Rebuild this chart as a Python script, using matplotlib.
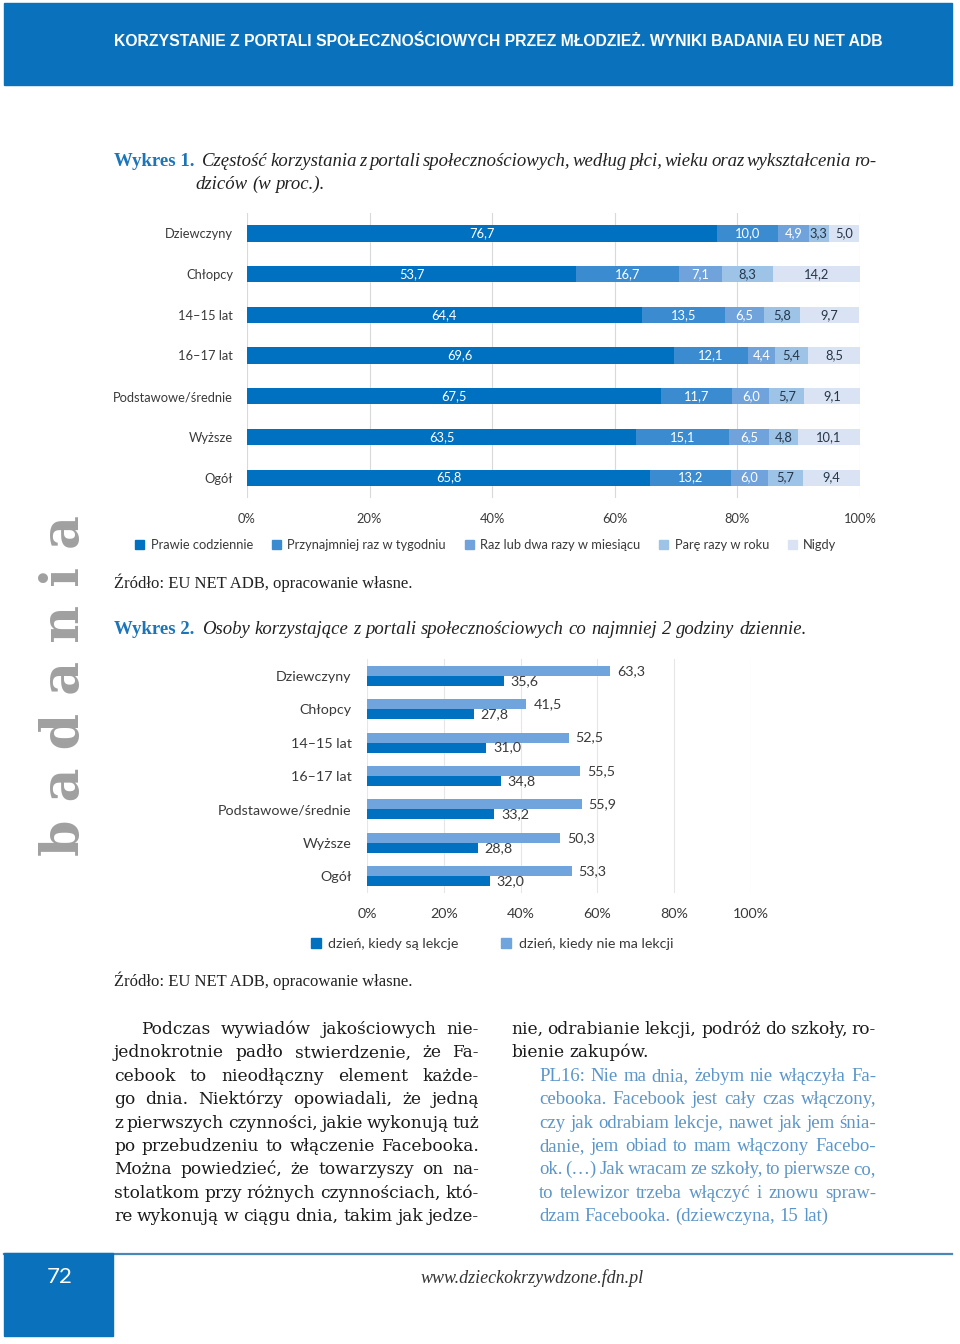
import matplotlib
matplotlib.use("Agg")
import matplotlib.pyplot as plt
import numpy as np
from matplotlib.patches import Rectangle, Patch
from matplotlib.lines import Line2D

# ---------------- data ----------------
cats = ["Dziewczyny", "Chłopcy", "14–15 lat", "16–17 lat",
        "Podstawowe/średnie", "Wyższe", "Ogół"]
series1_names = ["Prawie codziennie", "Przynajmniej raz w tygodniu",
                 "Raz lub dwa razy w miesiącu", "Parę razy w roku", "Nigdy"]
prawie = [76.7, 53.7, 64.4, 69.6, 67.5, 63.5, 65.8]
tydzien = [10.0, 16.7, 13.5, 12.1, 11.7, 15.1, 13.2]
miesiac = [4.9, 7.1, 6.5, 4.4, 6.0, 6.5, 6.0]
rok = [3.3, 8.3, 5.8, 5.4, 5.7, 4.8, 5.7]
nigdy = [5.0, 14.2, 9.7, 8.5, 9.1, 10.1, 9.4]
ticks1 = [0, 20, 40, 60, 80, 100]

series2_names = ["dzień, kiedy są lekcje", "dzień, kiedy nie ma lekcji"]
lekcje = [35.6, 27.8, 31.0, 34.8, 33.2, 28.8, 32.0]
bez_lekcji = [63.3, 41.5, 52.5, 55.5, 55.9, 50.3, 53.3]
ticks2 = [0, 20, 40, 60, 80, 100]

header = "KORZYSTANIE Z PORTALI SPOŁECZNOŚCIOWYCH PRZEZ MŁODZIEŻ. WYNIKI BADANIA EU NET ADB"
title1_a = "Wykres 1."
title1_l1 = "Częstość korzystania z portali społecznościowych, według płci, wieku oraz wykształcenia ro-"
title1_l2 = "dziców (w proc.)."
title2_a = "Wykres 2."
title2_b = "Osoby korzystające z portali społecznościowych co najmniej 2 godziny dziennie."
source = "Źródło: EU NET ADB, opracowanie własne."
body_left = ["Podczas wywiadów jakościowych nie-",
             "jednokrotnie padło stwierdzenie, że Fa-",
             "cebook to nieodłączny element każde-",
             "go dnia. Niektórzy opowiadali, że jedną",
             "z pierwszych czynności, jakie wykonują tuż",
             "po przebudzeniu to włączenie Facebooka.",
             "Można powiedzieć, że towarzyszy on na-",
             "stolatkom przy różnych czynnościach, któ-",
             "re wykonują w ciągu dnia, takim jak jedze-"]
body_right = ["nie, odrabianie lekcji, podróż do szkoły, ro-",
              "bienie zakupów."]
quote = ["PL16: Nie ma dnia, żebym nie włączyła Fa-",
         "cebooka. Facebook jest cały czas włączony,",
         "czy jak odrabiam lekcje, nawet jak jem śnia-",
         "danie, jem obiad to mam włączony Facebo-",
         "ok. (…) Jak wracam ze szkoły, to pierwsze co,",
         "to telewizor trzeba włączyć i znowu spraw-",
         "dzam Facebooka. (dziewczyna, 15 lat)"]
page_no = "72"
url = "www.dzieckokrzywdzone.fdn.pl"
side = "b a d a n i a"

# ---------------- styles ----------------
W, H = 960, 1344
BLUE = "#0A72BD"
TBLUE = "#1B75BB"
QBLUE = "#5B95C9"
cols1 = ["#0070C0", "#3A8BCF", "#70A3DC", "#9DC3E6", "#DAE3F3"]
tcols1 = ["white", "white", "white", "#26364A", "#26364A"]
col_dark, col_light = "#0070C0", "#70A4DC"
SANS = ["Lato", "DejaVu Sans"]
SERIF = ["Liberation Serif", "DejaVu Serif"]
TXT = "#3A3A3A"

fig = plt.figure(figsize=(W / 100, H / 100), dpi=100)
R = fig.canvas.get_renderer()


def fx(x):
    return x / W


def fy(y):
    return 1 - y / H


def tw(s, **kw):
    t = fig.text(0, 0, s, **kw)
    w = t.get_window_extent(R).width
    t.remove()
    return w


def put_line(text, x0, x1, base, justify=True, **kw):
    words = text.split(" ")
    ws = [tw(w, **kw) for w in words]
    sp = tw("a a", **kw) - tw("aa", **kw)
    if justify and len(words) > 1:
        gap = (x1 - x0 - sum(ws)) / (len(words) - 1)
    else:
        gap = sp
    x = x0
    for w, wd in zip(words, ws):
        fig.text(fx(x), fy(base), w, va="baseline", ha="left", **kw)
        x += wd + gap


def fit_size(lines, width, size, frac=0.5, **kw):
    while size > 6:
        ok = True
        for ln in lines:
            words = ln.split(" ")
            tot = sum(tw(w, fontsize=size, **kw) for w in words)
            sp = tw("a a", fontsize=size, **kw) - tw("aa", fontsize=size, **kw)
            if tot + frac * sp * (len(words) - 1) > width:
                ok = False
                break
        if ok:
            return size
        size -= 0.25
    return size


# ---------------- header ----------------
fig.add_artist(Rectangle((fx(4), fy(85)), fx(948), 82 / H, transform=fig.transFigure,
                         color=BLUE, zorder=0))
hkw = dict(color="white", weight="bold", family=["Liberation Sans Narrow", "Liberation Sans"])
hs = 14.0
hw = tw(header, fontsize=hs, **hkw)
hs = hs * 770 / hw
fig.text(fx(114), fy(41), header, va="center", ha="left", fontsize=hs, **hkw)

# ---------------- titles ----------------
tkw_b = dict(family=SERIF, weight="bold", color=TBLUE, fontsize=13.5)
tkw_i = dict(family=SERIF, style="italic", color="#222222", fontsize=13.5)
fig.text(fx(114), fy(166), title1_a, va="baseline", ha="left", **tkw_b)
put_line(title1_l1, 202, 876, 166, True, **tkw_i)
put_line(title1_l2, 195, 876, 189, False, **tkw_i)

fig.text(fx(114), fy(634), title2_a, va="baseline", ha="left", **tkw_b)
put_line(title2_b, 202, 876, 634, False, **tkw_i)

skw = dict(family=SERIF, color="#222222", fontsize=12)
fig.text(fx(114), fy(588), source, va="baseline", ha="left", **skw)
fig.text(fx(114), fy(986), source, va="baseline", ha="left", **skw)


def fmt(v):
    return f"{v:.1f}".replace(".", ",")


# ---------------- chart 1 ----------------
ax1 = fig.add_axes([fx(247), fy(498), 613 / W, 285 / H])
y = np.arange(len(cats))
left = np.zeros(len(cats))
handles = []
for name, vals, c, tc in zip(series1_names, [prawie, tydzien, miesiac, rok, nigdy], cols1, tcols1):
    vals = np.array(vals)
    b = ax1.barh(y, vals, left=left, height=0.4, color=c, label=name, zorder=3)
    ax1.bar_label(b, labels=[fmt(v) for v in vals], label_type="center",
                  color=tc, fontsize=9.3, family=SANS)
    left += vals
    handles.append(Patch(color=c, label=name))
ax1.set_xlim(0, 100)
ax1.set_ylim(len(cats) - 0.5, -0.5)
ax1.set_xticks(ticks1)
ax1.set_xticklabels([f"{t}%" for t in ticks1])
ax1.set_yticks(y)
ax1.set_yticklabels(cats)
ax1.tick_params(length=0, labelsize=9.3, labelcolor=TXT)
ax1.tick_params(axis="x", pad=11)
ax1.tick_params(axis="y", pad=10)
for lab in ax1.get_xticklabels() + ax1.get_yticklabels():
    lab.set_family(SANS)
ax1.xaxis.grid(True, color="#D9D9D9", lw=0.8, zorder=0)
ax1.set_axisbelow(True)
for s in ax1.spines.values():
    s.set_visible(False)
fig.legend(handles=handles, loc="center", bbox_to_anchor=(fx(486), fy(545)), ncol=5,
           frameon=False, handlelength=0.7, handleheight=0.7, handletextpad=0.5,
           columnspacing=1.45, prop={"family": SANS, "size": 9.3}, labelcolor=TXT)

# ---------------- chart 2 ----------------
ax2 = fig.add_axes([fx(367), fy(893), 384 / W, 234 / H])
b_l = ax2.barh(y - 0.15, bez_lekcji, height=0.3, color=col_light, zorder=3)
b_d = ax2.barh(y + 0.15, lekcje, height=0.3, color=col_dark, zorder=3)
ax2.bar_label(b_l, labels=[fmt(v) for v in bez_lekcji], padding=5, fontsize=10.3,
              color=TXT, family=SANS)
ax2.bar_label(b_d, labels=[fmt(v) for v in lekcje], padding=5, fontsize=10.3,
              color=TXT, family=SANS)
ax2.set_xlim(0, 100)
ax2.set_ylim(len(cats) - 0.5, -0.5)
ax2.set_xticks(ticks2)
ax2.set_xticklabels([f"{t}%" for t in ticks2])
ax2.set_yticks(y)
ax2.set_yticklabels(cats)
ax2.tick_params(length=0, labelsize=10.3, labelcolor=TXT)
ax2.tick_params(axis="x", pad=11)
ax2.tick_params(axis="y", pad=11)
for lab in ax2.get_xticklabels() + ax2.get_yticklabels():
    lab.set_family(SANS)
ax2.xaxis.grid(True, color="#E6E6E6", lw=0.8, zorder=0)
ax2.set_axisbelow(True)
for s in ax2.spines.values():
    s.set_visible(False)
fig.legend(handles=[Patch(color=col_dark, label=series2_names[0]),
                    Patch(color=col_light, label=series2_names[1])],
           loc="center", bbox_to_anchor=(fx(492), fy(944)), ncol=2, frameon=False,
           handlelength=0.7, handleheight=0.7, handletextpad=0.5, columnspacing=3.0,
           prop={"family": SANS, "size": 10.3}, labelcolor=TXT)

# ---------------- side text ----------------
fig.text(fx(65), fy(685), side, rotation=90, ha="center", va="center",
         fontsize=37.5, color="#A0A0A0", family=["DejaVu Serif"], weight="bold")

# ---------------- body text ----------------
bkw = dict(family=["DejaVu Serif"], color="#1A1A1A")
bs = fit_size(body_left + body_right[:1], 365, 12.5, frac=0.45, **bkw)
bases = [1034 + 23.4 * i for i in range(9)]
for i, ln in enumerate(body_left):
    x0 = 141 if i == 0 else 114
    put_line(ln, x0, 479, bases[i], True, fontsize=bs, **bkw)
put_line(body_right[0], 511, 876, bases[0], True, fontsize=bs, **bkw)
put_line(body_right[1], 511, 876, bases[1], False, fontsize=bs, **bkw)
qkw = dict(family=SERIF, color=QBLUE)
qs = fit_size(quote, 337, 13.5, frac=0.4, **qkw)
for i, ln in enumerate(quote):
    put_line(ln, 539, 876, bases[i + 2], i < len(quote) - 1, fontsize=qs, **qkw)

# ---------------- footer ----------------
fig.add_artist(Line2D([fx(4), fx(952)], [fy(1253.5), fy(1253.5)], transform=fig.transFigure,
                      color="#4A86B8", lw=1.6))
fig.add_artist(Rectangle((fx(4), fy(1336)), fx(109), 83 / H, transform=fig.transFigure,
                         color=BLUE, zorder=2))
fig.text(fx(60), fy(1277), page_no, color="white", fontsize=16, ha="center", va="center",
         family=SANS, zorder=3)
fig.text(fx(532), fy(1278), url, color="#333333", fontsize=13, ha="center", va="center",
         family=SERIF, style="italic")

fig.savefig("out.png", dpi=100)
